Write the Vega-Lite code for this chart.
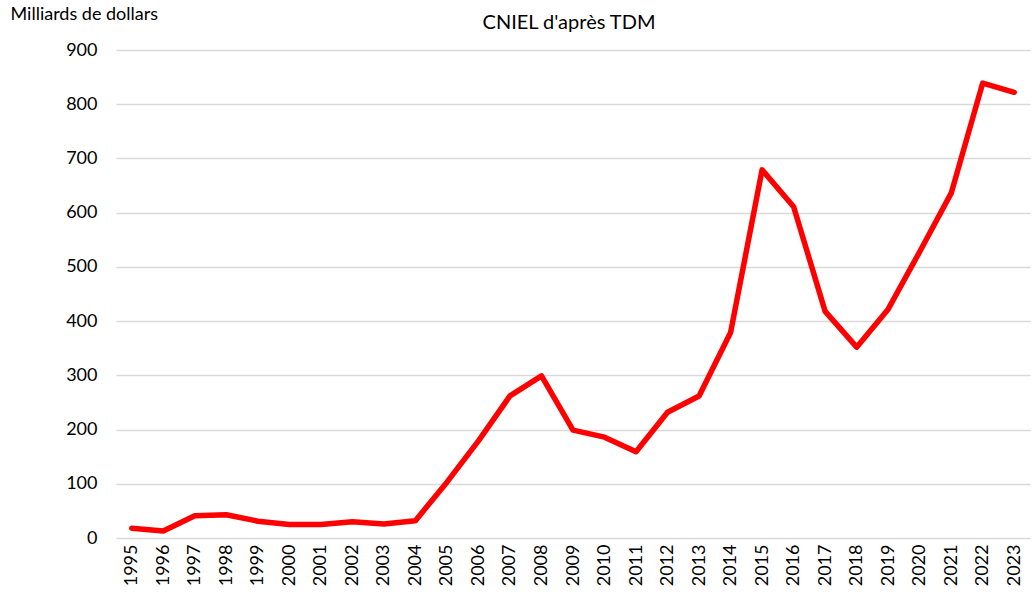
{
  "$schema": "https://vega.github.io/schema/vega-lite/v6.json",
  "autosize": "none",
  "width": 914,
  "height": 488,
  "padding": {"left": 116, "top": 50, "right": 3, "bottom": 59},
  "background": "white",
  "title": {"text": "CNIEL d'après TDM", "anchor": "middle", "offset": -28, "fontSize": 20, "fontWeight": "normal", "font": "Lato", "color": "#000000", "dx": -4},
  "config": {"view": {"stroke": null}, "font": "Lato"},
  "data": {"values": [
    {"year": "1995", "value": 18}, {"year": "1996", "value": 13}, {"year": "1997", "value": 41},
    {"year": "1998", "value": 43}, {"year": "1999", "value": 31}, {"year": "2000", "value": 25},
    {"year": "2001", "value": 25}, {"year": "2002", "value": 30}, {"year": "2003", "value": 26},
    {"year": "2004", "value": 32}, {"year": "2005", "value": 103}, {"year": "2006", "value": 179},
    {"year": "2007", "value": 262}, {"year": "2008", "value": 299}, {"year": "2009", "value": 199},
    {"year": "2010", "value": 186}, {"year": "2011", "value": 159}, {"year": "2012", "value": 232},
    {"year": "2013", "value": 262}, {"year": "2014", "value": 379}, {"year": "2015", "value": 679},
    {"year": "2016", "value": 611}, {"year": "2017", "value": 418}, {"year": "2018", "value": 352},
    {"year": "2019", "value": 422}, {"year": "2020", "value": 528}, {"year": "2021", "value": 636},
    {"year": "2022", "value": 839}, {"year": "2023", "value": 822}
  ]},
  "mark": {"type": "line", "color": "#FF0000", "strokeWidth": 5.5, "strokeCap": "round", "strokeJoin": "round"},
  "encoding": {
    "x": {"field": "year", "type": "ordinal", "scale": {"type": "point", "padding": 0.5},
      "axis": {"title": null, "labelAngle": -90, "labelAlign": "right", "labelBaseline": "middle", "labelFontSize": 18, "labelColor": "#000000", "labelPadding": 6, "ticks": false, "domain": false, "grid": false}},
    "y": {"field": "value", "type": "quantitative", "scale": {"domain": [0, 900], "nice": false},
      "axis": {"title": "Milliards de dollars", "titleAngle": 0, "titleX": -106, "titleY": -36, "titleAlign": "left", "titleBaseline": "middle", "titleFontSize": 18, "titleFontWeight": "normal", "titleColor": "#000000",
        "values": [0, 100, 200, 300, 400, 500, 600, 700, 800, 900], "labelFontSize": 18, "labelColor": "#000000", "labelPadding": 19, "ticks": false, "domain": false, "grid": true, "gridColor": "#d9d9d9", "gridWidth": 1.5}}
  }
}
